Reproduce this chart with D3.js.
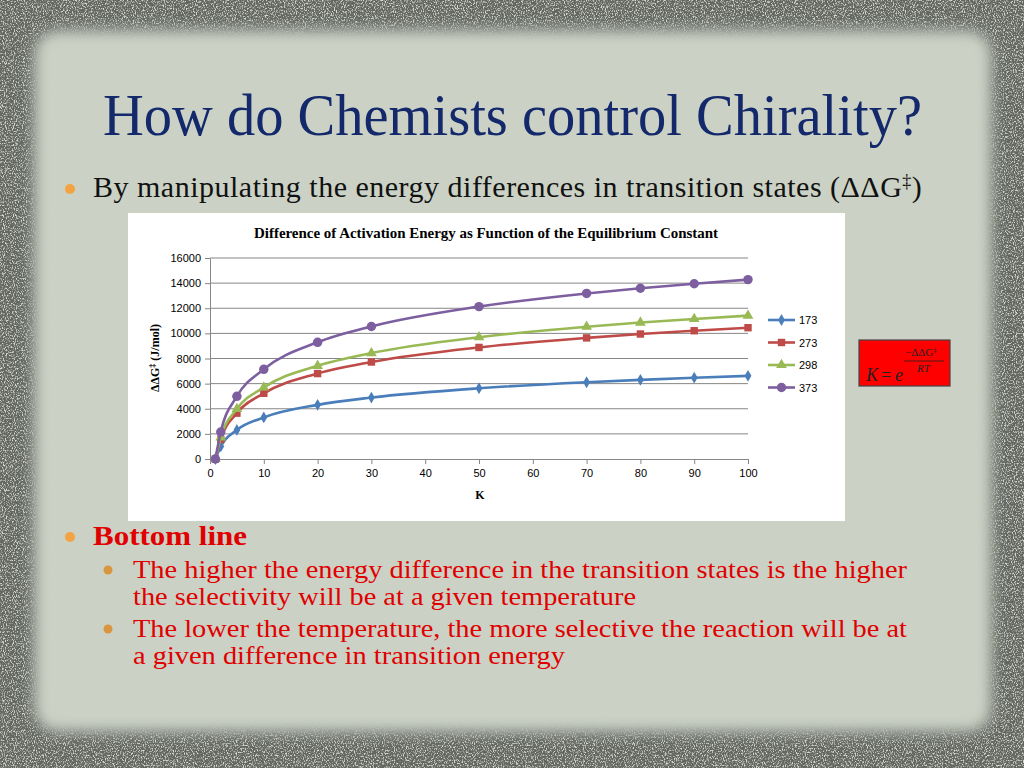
<!DOCTYPE html>
<html><head><meta charset="utf-8">
<script src="https://cdn.jsdelivr.net/npm/d3@7"></script>
<style>html,body{margin:0;padding:0;background:#cbd1c5;}svg{display:block;}</style>
</head><body>
<script>
// ---- data ----
const kValues = [1, 2, 5, 10, 20, 30, 50, 70, 80, 90, 100];
const seriesNames = ["173", "273", "298", "373"];
const s173 = [0, 1000, 2310, 3310, 4310, 4890, 5630, 6110, 6300, 6470, 6620];
const s273 = [0, 1570, 3650, 5230, 6800, 7720, 8880, 9640, 9950, 10210, 10450];
const s298 = [0, 1720, 3990, 5700, 7420, 8430, 9690, 10530, 10860, 11150, 11410];
const s373 = [0, 2150, 4990, 7140, 9290, 10550, 12130, 13180, 13590, 13950, 14280];
const yTicks = [0, 2000, 4000, 6000, 8000, 10000, 12000, 14000, 16000];
const xTicks = [0, 10, 20, 30, 40, 50, 60, 70, 80, 90, 100];
const seriesValues = [s173, s273, s298, s373];
const seriesColors = ["#4a7ebb", "#be4b48", "#98b954", "#7d5fa0"];
const seriesSymbols = [d3.symbolDiamond, d3.symbolSquare, d3.symbolTriangle, d3.symbolCircle];
const symbolSizes = [40, 55, 50, 70];

const W = 1024, H = 768;
const svg = d3.select("body").append("svg").attr("width", W).attr("height", H);
const defs = svg.append("defs");

// texture filters
const f = defs.append("filter").attr("id", "noise").attr("x", 0).attr("y", 0).attr("width", "100%").attr("height", "100%");
f.append("feTurbulence").attr("type", "fractalNoise").attr("baseFrequency", "0.9 0.6").attr("numOctaves", 3).attr("seed", 7).attr("result", "t");
f.append("feColorMatrix").attr("in", "t").attr("type", "matrix")
  .attr("values", "0 0 0 0 0.66  0 0 0 0 0.68  0 0 0 0 0.64  4 0 0 0 -1.9");
const mask = defs.append("mask").attr("id", "bmask");
mask.append("rect").attr("width", W).attr("height", H).attr("fill", "white");
const blur = defs.append("filter").attr("id", "blur").attr("x", "-10%").attr("y", "-10%").attr("width", "120%").attr("height", "120%");
blur.append("feGaussianBlur").attr("stdDeviation", 7);
mask.append("rect").attr("x", 34).attr("y", 30).attr("width", 958).attr("height", 702).attr("rx", 24)
  .attr("fill", "black").attr("filter", "url(#blur)");

svg.append("rect").attr("width", W).attr("height", H).attr("fill", "#cbd1c5");
svg.append("rect").attr("width", W).attr("height", H).attr("fill", "#62665f").attr("mask", "url(#bmask)");
svg.append("rect").attr("width", W).attr("height", H).attr("filter", "url(#noise)").attr("mask", "url(#bmask)");

// title
svg.append("text").attr("x", 103).attr("y", 135).attr("textLength", 819).attr("lengthAdjust", "spacingAndGlyphs")
  .attr("font-family", "Liberation Serif").attr("font-size", 60).attr("fill", "#13296b")
  .text("How do Chemists control Chirality?");

// bullets
function dot(x, y, r, c) { svg.append("circle").attr("cx", x).attr("cy", y).attr("r", r).attr("fill", c); }
function line(x, y, size, len, txt, color, weight) {
  const t = svg.append("text").attr("x", x).attr("y", y).attr("font-family", "Liberation Serif")
    .attr("font-size", size).attr("fill", color).attr("font-weight", weight || "normal").text(txt);
  if (len) t.attr("textLength", len).attr("lengthAdjust", "spacingAndGlyphs");
  return t;
}
dot(70, 189, 5, "#f3a342");
const b1 = svg.append("text").attr("x", 93).attr("y", 197).attr("font-family", "Liberation Serif")
  .attr("font-size", 30).attr("letter-spacing", 0.5).attr("fill", "#111");
b1.append("tspan").text("By manipulating the energy differences in transition states (ΔΔG");
b1.append("tspan").attr("font-size", 18).attr("dy", -10).text("‡");
b1.append("tspan").attr("dy", 10).text(")");
dot(70, 537, 5, "#f3a342");
line(93, 545, 27, 154, "Bottom line", "#e00000", "bold");
dot(108, 570, 4.5, "#d9953f");
line(133, 578, 25, 774, "The higher the energy difference in the transition states is the higher", "#e00000");
line(133, 605, 25, 503, "the selectivity will be at a given temperature", "#e00000");
dot(108, 629, 4.5, "#d9953f");
line(133, 637, 25, 774, "The lower the temperature, the more selective the reaction will be at", "#e00000");
line(133, 664, 25, 432, "a given difference in transition energy", "#e00000");

// chart area
svg.append("rect").attr("x", 128).attr("y", 213).attr("width", 717).attr("height", 308).attr("fill", "#fff");
const x = d3.scaleLinear().domain([0, 100]).range([210, 748]);
const y = d3.scaleLinear().domain([0, 16000]).range([459, 258]);
const g = svg.append("g");

g.append("text").attr("x", 254).attr("y", 238).attr("font-family", "Liberation Serif")
  .attr("font-weight", "bold").attr("font-size", 14).attr("fill", "#000")
  .attr("textLength", 464).attr("lengthAdjust", "spacingAndGlyphs")
  .text("Difference of Activation Energy as Function of the Equilibrium Constant");

// gridlines
g.selectAll(".grid").data(yTicks.slice(1)).enter().append("line")
  .attr("x1", x(0)).attr("x2", x(100)).attr("y1", d => y(d)).attr("y2", d => y(d))
  .attr("stroke", "#868686").attr("stroke-width", 1);

const yAxis = d3.axisLeft(y).tickValues(yTicks).tickFormat(d3.format("d")).tickSize(5).tickSizeOuter(0).tickPadding(4);
const ya = g.append("g").attr("transform", `translate(${x(0)},0)`).call(yAxis);
const xAxis = d3.axisBottom(x).tickValues(xTicks).tickFormat(d3.format("d")).tickSize(5).tickSizeOuter(0).tickPadding(5);
const xa = g.append("g").attr("transform", `translate(0,${y(0)})`).call(xAxis);
[ya, xa].forEach(a => {
  a.select(".domain").attr("stroke", "#868686");
  a.selectAll(".tick line").attr("stroke", "#868686");
  a.selectAll(".tick text").attr("font-family", "Liberation Sans").attr("font-size", 11).attr("fill", "#000");
});

const yl = g.append("text").attr("transform", "translate(159,358) rotate(-90)").attr("text-anchor", "middle")
  .attr("font-family", "Liberation Serif").attr("font-weight", "bold").attr("font-size", 12);
yl.append("tspan").text("ΔΔG");
yl.append("tspan").attr("font-size", 8).attr("dy", -4).text("‡");
yl.append("tspan").attr("dy", 4).text(" (J/mol)");
g.append("text").attr("x", 480).attr("y", 499).attr("text-anchor", "middle")
  .attr("font-family", "Liberation Serif").attr("font-weight", "bold").attr("font-size", 12).text("K");

// series
const lineGen = d3.line().x(d => x(d[0])).y(d => y(d[1])).curve(d3.curveMonotoneX);
seriesValues.forEach((vals, i) => {
  const pts = kValues.map((k, j) => [k, vals[j]]);
  g.append("path").attr("d", lineGen(pts)).attr("fill", "none").attr("stroke", seriesColors[i]).attr("stroke-width", 2.6);
  g.selectAll(null).data(pts).enter().append("path")
    .attr("d", d3.symbol().type(seriesSymbols[i]).size(symbolSizes[i]))
    .attr("transform", d => `translate(${x(d[0])},${y(d[1])})`)
    .attr("fill", seriesColors[i]);
});

// legend
seriesNames.forEach((n, i) => {
  const ly = 320 + i * 22.5;
  g.append("line").attr("x1", 768).attr("x2", 795).attr("y1", ly).attr("y2", ly).attr("stroke", seriesColors[i]).attr("stroke-width", 2.6);
  g.append("path").attr("d", d3.symbol().type(seriesSymbols[i]).size(symbolSizes[i])).attr("transform", `translate(781.5,${ly})`).attr("fill", seriesColors[i]);
  g.append("text").attr("x", 799).attr("y", ly + 4).attr("font-family", "Liberation Sans").attr("font-size", 11).text(n);
});

// formula box
svg.append("rect").attr("x", 859).attr("y", 340).attr("width", 91).attr("height", 46).attr("fill", "#ff0000").attr("stroke", "#444").attr("stroke-width", 1.2);
svg.append("text").attr("x", 866).attr("y", 381).attr("font-family", "Liberation Serif").attr("font-style", "italic").attr("font-size", 18).attr("fill", "#222").text("K");
svg.append("text").attr("x", 881).attr("y", 381).attr("font-family", "Liberation Serif").attr("font-size", 18).attr("fill", "#222").text("=");
svg.append("text").attr("x", 895).attr("y", 381).attr("font-family", "Liberation Serif").attr("font-style", "italic").attr("font-size", 18).attr("fill", "#222").text("e");
const num = svg.append("text").attr("x", 905).attr("y", 356).attr("font-family", "Liberation Serif").attr("font-size", 11).attr("fill", "#222");
num.append("tspan").text("−ΔΔG");
num.append("tspan").attr("font-size", 7).attr("dy", -4).text("‡");
svg.append("line").attr("x1", 904).attr("x2", 944).attr("y1", 361).attr("y2", 361).attr("stroke", "#222").attr("stroke-width", 0.8);
svg.append("text").attr("x", 917).attr("y", 372).attr("font-family", "Liberation Serif").attr("font-style", "italic").attr("font-size", 11).attr("fill", "#222").text("RT");
</script>
</body></html>
